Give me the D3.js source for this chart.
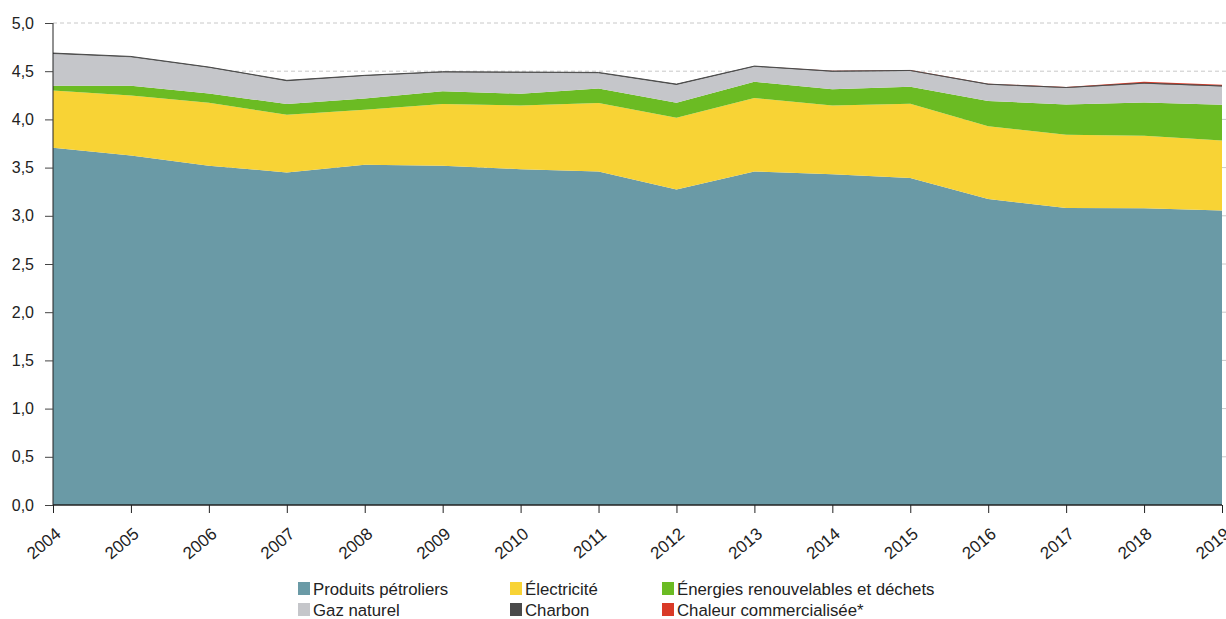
<!DOCTYPE html>
<html><head><meta charset="utf-8">
<script src="https://cdn.jsdelivr.net/npm/d3@7"></script>
<style>body{margin:0;background:#fff;font-family:"Liberation Sans",Arial,sans-serif;}</style>
</head><body>
<svg id="c" width="1226" height="619"></svg>
<script>
const years = [2004,2005,2006,2007,2008,2009,2010,2011,2012,2013,2014,2015,2016,2017,2018,2019];
const petrole   = [3.705,3.625,3.52,3.45,3.53,3.52,3.484,3.459,3.272,3.459,3.432,3.391,3.173,3.082,3.079,3.054];
const electricite=[0.595,0.623,0.652,0.598,0.571,0.64,0.66,0.71,0.745,0.762,0.712,0.771,0.757,0.758,0.751,0.727];
const renouvelables=[0.049,0.101,0.097,0.111,0.117,0.132,0.122,0.152,0.155,0.169,0.17,0.176,0.26,0.315,0.345,0.371];
const gaz       = [0.33,0.296,0.266,0.238,0.231,0.195,0.217,0.158,0.186,0.155,0.18,0.163,0.17,0.17,0.196,0.19];
const charbon   = [0.009,0.008,0.008,0.008,0.008,0.008,0.008,0.008,0.008,0.008,0.007,0.007,0.006,0.006,0.005,0.005];
const chaleur   = [0,0,0,0,0,0,0,0,0,0,0.004,0.004,0.004,0.006,0.014,0.012];
const yTicks = [0,0.5,1,1.5,2,2.5,3,3.5,4,4.5,5];
const seriesNames = ["Produits pétroliers","Électricité","Énergies renouvelables et déchets","Gaz naturel","Charbon","Chaleur commercialisée*"];
const colors = ["#6a9aa6","#f8d335","#6bbb23","#c5c6ca","#4a4a4a","#d93a27"];
const seriesData = [petrole,electricite,renouvelables,gaz,charbon,chaleur];

const svg = d3.select("#c");
const x = d3.scaleLinear().domain([2004,2019]).range([53,1222]);
const y = d3.scaleLinear().domain([0,5]).range([505,23]);

const rows = years.map((yr,i)=>{const r={year:yr}; seriesNames.forEach((n,k)=>r[n]=seriesData[k][i]); return r;});
const stack = d3.stack().keys(seriesNames)(rows);

// gridlines
svg.append("g").selectAll("line").data(yTicks.filter(d=>d>0)).join("line")
  .attr("x1",53).attr("x2",1226).attr("y1",d=>y(d)).attr("y2",d=>y(d))
  .attr("stroke","#c8c8c8").attr("stroke-dasharray","4,3").attr("stroke-width",1);

const area = d3.area().x(d=>x(d.data.year)).y0(d=>y(d[0])).y1(d=>y(d[1]));
svg.append("g").selectAll("path").data(stack).join("path")
  .attr("d",area).attr("fill",(d,i)=>colors[i]);

// top edge line for the thin charbon band
const line = d3.line().x(d=>x(d.data.year)).y(d=>y(d[1]));
svg.append("path").datum(stack[4]).attr("d",line).attr("fill","none").attr("stroke","#4a4a4a").attr("stroke-width",1);

const font = "Liberation Sans, Arial, sans-serif";
// y axis
const yAxis = d3.axisLeft(y).tickValues(yTicks).tickSize(8).tickPadding(11)
  .tickFormat(d=>d3.format(".1f")(d).replace(".",","));
const gy = svg.append("g").attr("transform","translate(53,0)").call(yAxis);
gy.select(".domain").attr("stroke","#222").attr("d","M0,23V505");
gy.selectAll(".tick line").attr("stroke","#444");
gy.selectAll("text").attr("font-size",16).attr("fill","#222").attr("font-family",font);

// x axis
const xAxis = d3.axisBottom(x).tickValues(years).tickFormat(d3.format("d")).tickSize(8).tickPadding(4);
const gx = svg.append("g").attr("transform","translate(0,505)").call(xAxis);
gx.select(".domain").attr("stroke","#222").attr("stroke-width",1.5).attr("d","M53,0H1222");
gx.selectAll(".tick line").attr("stroke","#222");
gx.selectAll("text").attr("font-size",17).attr("fill","#222").attr("font-family",font)
  .attr("text-anchor","end").attr("dy","0.35em").attr("transform","translate(-3,17) rotate(-40)");

// legend
const legPos = [[298,589],[510,589],[662,589],[298,610],[510,610],[662,610]];
const leg = svg.append("g").selectAll("g").data(seriesNames).join("g")
  .attr("transform",(d,i)=>`translate(${legPos[i][0]},${legPos[i][1]})`);
leg.append("rect").attr("x",0).attr("y",-7).attr("width",12).attr("height",13).attr("fill",(d,i)=>colors[i]);
leg.append("text").attr("x",15).attr("y",0).attr("dy","0.35em").attr("font-size",16.8).attr("fill","#222")
  .attr("font-family",font).text(d=>d);
</script>
</body></html>
